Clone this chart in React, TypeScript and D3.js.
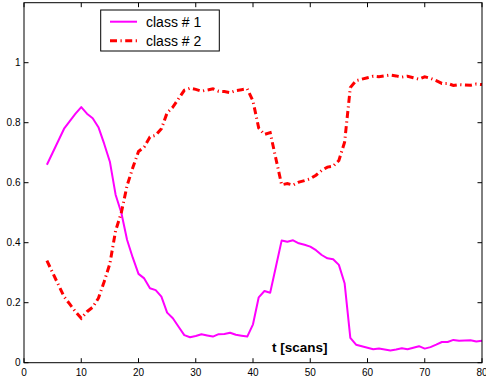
import React from "react";
import * as d3 from "d3";

const tValues = [4,5,6,7,8,9,10,11,12,13,14,15,16,17,18,19,20,21,22,23,24,25,26,27,28,29,30,31,32,33,34,35,36,37,38,39,40,41,42,43,44,45,46,47,48,49,50,51,52,53,54,55,56,57,58,59,60,61,62,63,64,65,66,67,68,69,70,71,72,73,74,75,76,77,78,79,80];

const class1 = [0.66,0.70,0.74,0.78,0.805,0.83,0.852,0.83,0.815,0.785,0.73,0.67,0.56,0.50,0.41,0.35,0.296,0.281,0.248,0.242,0.22,0.167,0.148,0.12,0.092,0.085,0.089,0.095,0.091,0.087,0.095,0.096,0.10,0.093,0.09,0.087,0.128,0.218,0.239,0.233,0.32,0.407,0.403,0.408,0.398,0.393,0.387,0.375,0.359,0.348,0.345,0.326,0.265,0.083,0.06,0.055,0.05,0.045,0.047,0.044,0.041,0.044,0.048,0.045,0.05,0.055,0.047,0.052,0.06,0.069,0.069,0.076,0.073,0.074,0.075,0.071,0.073];

const class2 = [0.34,0.30,0.26,0.22,0.195,0.17,0.148,0.17,0.185,0.215,0.27,0.33,0.44,0.50,0.59,0.65,0.704,0.719,0.752,0.758,0.78,0.833,0.852,0.88,0.908,0.915,0.911,0.905,0.909,0.913,0.905,0.904,0.90,0.907,0.91,0.913,0.872,0.782,0.761,0.767,0.68,0.593,0.597,0.592,0.602,0.607,0.613,0.625,0.641,0.652,0.655,0.674,0.735,0.917,0.94,0.945,0.95,0.955,0.953,0.956,0.959,0.956,0.952,0.955,0.95,0.945,0.953,0.948,0.94,0.931,0.931,0.924,0.927,0.926,0.925,0.929,0.927];

const xTicks = [0,10,20,30,40,50,60,70,80];
const yTicks = [0,0.2,0.4,0.6,0.8,1];
const yTickLabels = ["0","0.2","0.4","0.6","0.8","1"];
const legendLabels = ["class # 1","class # 2"];
const xLabel = "t [scans]";

const W = 486, H = 385;
const left = 24, right = 482, top = 2.7, bottom = 362.7;

export default function App() {
  const x = d3.scaleLinear().domain([0, 80]).range([left, right]);
  const y = d3.scaleLinear().domain([0, 1.2]).range([bottom, top]);
  const line = d3.line<number>().x((_, i) => x(tValues[i])).y((d) => y(d));
  const font = "Liberation Sans, Arial, Helvetica, sans-serif";
  const tl = 4.5;
  return (
    <svg width={W} height={H} style={{ position: "absolute", left: 0, top: 0, background: "#fff" }} fontFamily={font}>
      <rect x={0} y={0} width={W} height={H} fill="#fff" />
      <path d={line(class1) || ""} fill="none" stroke="#ff00ff" strokeWidth={2} strokeLinejoin="round" />
      <path d={line(class2) || ""} fill="none" stroke="#ff0000" strokeWidth={3} strokeDasharray="7 3.5 1.2 3.5" />
      <rect x={left} y={top} width={right - left} height={bottom - top} fill="none" stroke="#000" strokeWidth={1} />
      {xTicks.map((t) => (
        <g key={"x" + t}>
          <line x1={x(t)} x2={x(t)} y1={bottom} y2={bottom - tl} stroke="#000" />
          <line x1={x(t)} x2={x(t)} y1={top} y2={top + tl} stroke="#000" />
          <text x={x(t)} y={376} textAnchor="middle" fontSize={10} fill="#000">{t}</text>
        </g>
      ))}
      {yTicks.map((v, i) => (
        <g key={"y" + v}>
          <line x1={left} x2={left + tl} y1={y(v)} y2={y(v)} stroke="#000" />
          <line x1={right} x2={right - tl} y1={y(v)} y2={y(v)} stroke="#000" />
          <text x={20.5} y={y(v)} dy="0.35em" textAnchor="end" fontSize={10} fill="#000">{yTickLabels[i]}</text>
        </g>
      ))}
      <text x={272} y={352} fontSize={13.5} fontWeight="bold" fill="#000">{xLabel}</text>
      <g>
        <rect x={100.7} y={10} width={118.6} height={41} fill="#fff" stroke="#000" strokeWidth={1} />
        <line x1={110} x2={137} y1={21.7} y2={21.7} stroke="#ff00ff" strokeWidth={2} />
        <line x1={110} x2={137} y1={40.7} y2={40.7} stroke="#ff0000" strokeWidth={3} strokeDasharray="7 3.5 1.2 3.5" />
        <text x={146} y={26.7} fontSize={14} fill="#000">{legendLabels[0]}</text>
        <text x={146} y={45.7} fontSize={14} fill="#000">{legendLabels[1]}</text>
      </g>
    </svg>
  );
}
